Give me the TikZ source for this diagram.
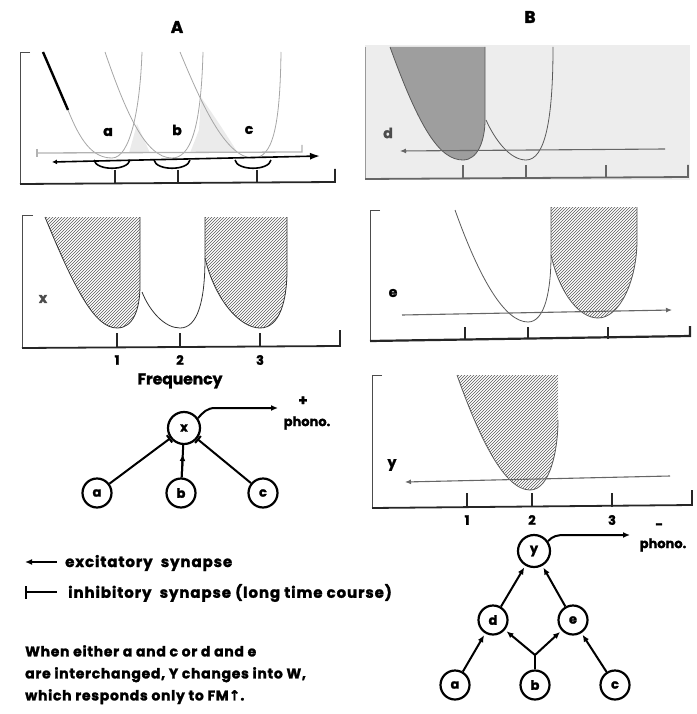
\documentclass[tikz,border=0pt]{standalone}
\usepackage{fontspec}
\setmainfont{Poppins}[BoldFeatures={FakeBold=1.6}]
\newfontfamily\symfont{DejaVu Sans}[BoldFeatures={FakeBold=1.2}]
\usetikzlibrary{patterns,arrows.meta}
\begin{document}
\begin{tikzpicture}[x=1pt,y=-1pt,
  axisline/.style={line width=1.8pt,black!85},
  sideline/.style={line width=0.8pt,black!70},
  tickmark/.style={line width=1.4pt,black!85},
  curve/.style={line width=0.8pt,black!65},
  faint/.style={line width=0.8pt,black!35},
  hatch/.style={pattern=north east lines,pattern color=black!65},
  neuron/.style={circle,draw,line width=2.2pt,minimum size=29pt,inner sep=0pt,font=\bfseries\fontsize{13}{13}\selectfont},
  conn/.style={line width=2pt},
  lbl/.style={font=\bfseries\fontsize{14}{14}\selectfont},
  num/.style={font=\bfseries\fontsize{13}{13}\selectfont},
  big/.style={font=\bfseries\fontsize{17}{17}\selectfont},
  legtxt/.style={font=\bfseries\fontsize{15}{22}\selectfont\addfontfeatures{LetterSpace=6},anchor=west,inner sep=0pt},
  paratxt/.style={font=\bfseries\fontsize{14}{22}\selectfont\addfontfeatures{LetterSpace=5},anchor=north west,inner sep=0pt,align=left},
  exc/.style={-{Latex[length=7pt,width=6pt]}},
]
\useasboundingbox (0,0) rectangle (696,714);

% ---------- titles
\node[big] (tA) at (177,27) {A};
\node[big] (tB) at (530,17) {B};

% ---------- Panel A top
\fill[black!8] (137,124) -- (129,153) -- (150,153) -- cycle;
\fill[black!8] (201,97) -- (199,130) -- (190,153) -- (238,153) -- (220,125) -- cycle;
\draw[sideline] (30,52) -- (20,52) -- (20,185);
\draw[axisline] (20,184) -- (335,182) -- (335,169);
\foreach \t in {115,178,257} \draw[tickmark] (\t,183) -- (\t,170);
\draw[line width=2.4pt] (43,52) -- (68,110);
\draw[faint] (68,110) .. controls (80,140) and (92,158) .. (112,158)
             .. controls (130,158) and (140,110) .. (142,52);
\draw[faint] (105,52) .. controls (125,110) and (145,158) .. (172,158)
             .. controls (190,158) and (201,130) .. (203,52);
\draw[faint] (180,52) .. controls (200,100) and (225,158) .. (253,158)
             .. controls (272,158) and (280,130) .. (281,52);
\draw[line width=1.3pt,black!30] (37,149) -- (37,157);
\draw[line width=1.3pt,black!30] (37,153) -- (302,152) -- (302,145);
\foreach \c in {112,172,253}
  \draw[line width=1.6pt] (\c-18,160) .. controls (\c-16,171) and (\c+16,171) .. (\c+18,160);
\draw[line width=1.6pt,{Latex[length=5pt,width=5pt]}-{Latex[length=10pt,width=7pt]}] (52,162) -- (320,156);
\node[lbl] (la) at (108,132) {a};
\node[lbl] (lb) at (177,130) {b};
\node[lbl] (lc) at (249,130) {c};

% ---------- Panel x
\fill[hatch] (45,217) .. controls (75,290) and (95,328) .. (117,328)
   .. controls (133,328) and (140,310) .. (140,285) -- (140,217) -- cycle;
\draw[curve,black!80] (45,217) .. controls (75,290) and (95,328) .. (117,328)
   .. controls (133,328) and (140,310) .. (140,285) -- (140,217);
\fill[hatch] (205,217) -- (205,258) .. controls (215,300) and (240,328) .. (260,328)
   .. controls (280,328) and (287,300) .. (287,270) -- (287,217) -- cycle;
\draw[curve,black!80] (205,217) -- (205,258) .. controls (215,300) and (240,328) .. (260,328)
   .. controls (280,328) and (287,300) .. (287,270) -- (287,217);
\draw[curve,black!80] (142,292) .. controls (150,312) and (165,328) .. (180,328)
   .. controls (198,328) and (205,300) .. (205,258);
\draw[sideline] (33,215) -- (22,215) -- (22,348);
\draw[axisline] (22,348) -- (340,346) -- (340,330);
\foreach \t/\n in {117/1,180/2,260/3} {
  \draw[tickmark] (\t,347) -- (\t,333);
  \node[num] at (\t,360) {\n};
}
\node[lbl,font=\bfseries\fontsize{15.5}{15}\selectfont] (freq) at (180,381) {Frequency};
\node[lbl,text=black!70] (lx) at (43,299) {x};

% ---------- Network A
\node[neuron,minimum size=32pt] (x) at (184,428) {x};
\node[neuron] (na) at (97,493) {a};
\node[neuron] (nb) at (181,493) {b};
\node[neuron] (nc) at (263,493) {c};
\draw[conn,-{Bar[width=9pt]}] (na) -- (x);
\draw[conn,-{Bar[width=9pt]}] (nc) -- (x);
\draw[conn] (nb) -- (x);
\draw[conn,exc,shorten >=9pt] (nb) -- (x);
\coordinate (phA) at (278,408);
\draw[conn,exc] (x.35) to[out=50,in=180] (215,408) -- (phA);
\node[lbl,font=\bfseries\fontsize{15}{15}\selectfont] (plus) at (303,401) {+};
\node[lbl,font=\bfseries\fontsize{13}{13}\selectfont] (phonoA) at (307,423) {phono.};

% ---------- Legend
\coordinate (l1a) at (25,562); \coordinate (l1b) at (57,562);
\coordinate (l2a) at (25,592); \coordinate (l2b) at (57,592);
\draw[conn,{Latex[length=7pt,width=6pt]}-] (l1a) -- (l1b);
\draw[conn,{Bar[width=13pt]}-] (l2a) -- (l2b);
\node[legtxt] (t1) at (65,563) {excitatory\ \ synapse};
\node[legtxt] (t2) at (68,593) {inhibitory\ \ synapse (long time course)};
\node[paratxt] (t3) at (25,645)
  {When either a and c or d and e\\are interchanged, Y changes into W,\\which responds only to FM{\symfont\bfseries ↑}.};

% ---------- Panel d
\fill[black!7] (365,45) rectangle (690,180);
\fill[black!38] (390,47) .. controls (420,130) and (440,160) .. (463,160)
   .. controls (478,160) and (485,140) .. (485,120) -- (485,47) -- cycle;
\draw[curve] (390,47) .. controls (420,130) and (440,160) .. (463,160)
   .. controls (478,160) and (485,140) .. (485,120) -- (485,47);
\draw[curve] (486,120) .. controls (495,140) and (510,160) .. (526,160)
   .. controls (545,160) and (553,120) .. (553,47);
\draw[sideline,black!40] (365,47) -- (365,180);
\draw[axisline,black!60] (365,179) -- (688,177) -- (688,165);
\foreach \t in {463,526,606} \draw[tickmark,black!60] (\t,178) -- (\t,165);
\draw[line width=1.1pt,black!60,{Latex[length=6pt,width=5pt]}-] (400,151) -- (665,149);
\node[lbl,text=black!70] (ld) at (388,133) {d};

% ---------- Panel e
\fill[hatch] (551,207) -- (551,255) .. controls (560,295) and (580,318) .. (598,318)
   .. controls (620,318) and (637,280) .. (637,240) -- (637,207) -- cycle;
\draw[curve] (551,207) -- (551,255) .. controls (560,295) and (580,318) .. (598,318)
   .. controls (620,318) and (637,280) .. (637,240) -- (637,207);
\draw[curve] (455,210) .. controls (480,280) and (505,322) .. (528,322)
   .. controls (545,322) and (551,290) .. (551,255);
\draw[sideline] (380,210) -- (370,210) -- (370,342);
\draw[axisline,line width=2.2pt] (370,341) -- (690,336) -- (690,326);
\foreach \t in {465,528,608} \draw[tickmark] (\t,339) -- (\t,327);
\draw[line width=1.1pt,black!60,-{Latex[length=6pt,width=5pt]}] (402,315) -- (672,310);
\node[lbl] (le) at (393,293) {e};

% ---------- Panel y
\fill[hatch] (457,375) .. controls (480,440) and (505,490) .. (530,490)
   .. controls (550,490) and (558,450) .. (558,420) -- (558,375) -- cycle;
\draw[curve] (457,375) .. controls (480,440) and (505,490) .. (530,490)
   .. controls (550,490) and (558,450) .. (558,420);
\draw[sideline] (382,375) -- (372,375) -- (372,507);
\draw[axisline] (372,508) -- (692,505) -- (692,490);
\foreach \t/\n in {467/1,532/2,612/3} {
  \draw[tickmark] (\t,507) -- (\t,493);
  \node[num] at (\t,520) {\n};
}
\draw[line width=1.1pt,black!60,{Latex[length=6pt,width=5pt]}-] (405,482) -- (670,476);
\node[lbl] (ly) at (392,465) {y};

% ---------- Network B
\node[neuron,minimum size=32pt] (y) at (534,551) {y};
\node[neuron] (d) at (493,620) {d};
\node[neuron] (e) at (573,620) {e};
\node[neuron] (ba) at (455,685) {a};
\node[neuron] (bb) at (535,685) {b};
\node[neuron] (bc) at (615,685) {c};
\coordinate (jb) at (535,655);
\draw[conn,exc,shorten >=2pt] (d) -- (y);
\draw[conn,exc,shorten >=2pt] (e) -- (y);
\draw[conn,exc,shorten >=2pt] (ba) -- (d);
\draw[conn,exc,shorten >=2pt] (bc) -- (e);
\draw[conn] (bb) -- (jb);
\draw[conn,exc,shorten >=2pt] (jb) -- (d);
\draw[conn,exc,shorten >=2pt] (jb) -- (e);
\coordinate (phB) at (630,535);
\draw[conn,exc] (y.35) to[out=50,in=180] (565,535) -- (phB);
\node[lbl,font=\bfseries\fontsize{15}{15}\selectfont] (minus) at (659,526) {\symfont\bfseries –};
\node[lbl,font=\bfseries\fontsize{13}{13}\selectfont] (phonoB) at (663,545) {phono.};
\end{tikzpicture}
\end{document}
